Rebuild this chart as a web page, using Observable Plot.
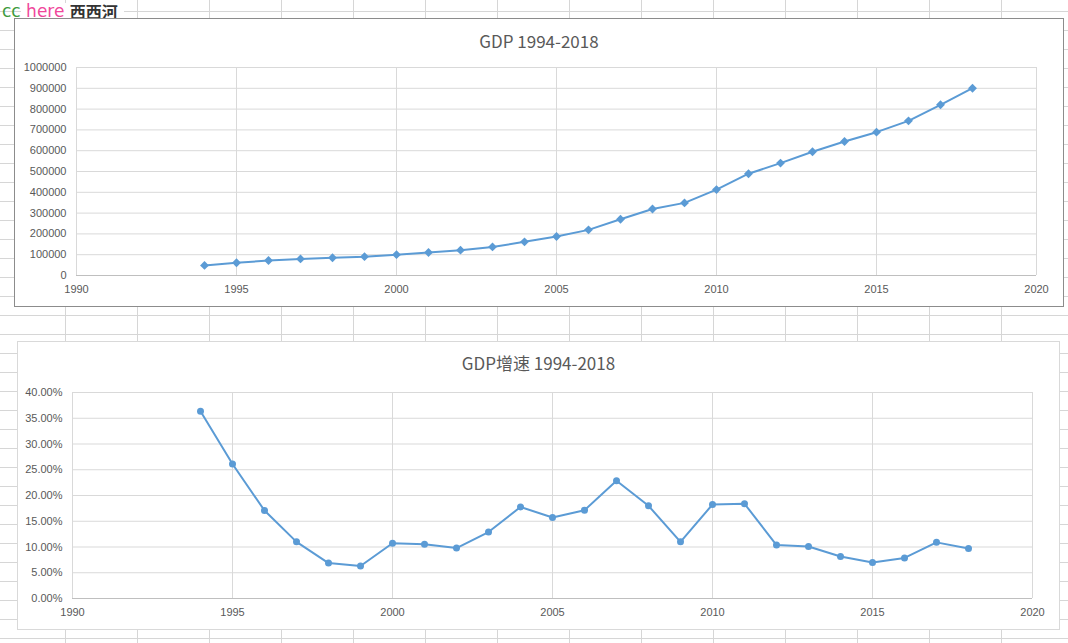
<!DOCTYPE html>
<html><head><meta charset="utf-8">
<script src="https://cdn.jsdelivr.net/npm/d3@7"></script>
<script src="https://cdn.jsdelivr.net/npm/@observablehq/plot@0.6"></script>
<style>
html,body{margin:0;padding:0;background:#fff;}
#page{position:relative;width:1068px;height:643px;overflow:hidden;background-color:#fff;
 background-image: linear-gradient(to bottom, #d6d6d6 1px, transparent 1px), linear-gradient(to right, #d6d6d6 1px, transparent 1px);
 background-size: 100% 19px, 72px 100%;
 background-position: 0 11px, 65px 0;}
.box{position:absolute;background:#fff;box-sizing:border-box;}
#box1{left:14px;top:18px;width:1050px;height:289px;border:1px solid #8c8c8c;}
#box2{left:17px;top:341px;width:1043px;height:289px;border:1px solid #d9d9d9;}
.title{position:absolute;text-align:center;font-family:"Noto Sans CJK SC","Noto Sans",sans-serif;font-size:17px;line-height:24px;color:#595959;}
.plot{position:absolute;}
#wm{position:absolute;left:2px;top:3px;font-family:"DejaVu Sans",sans-serif;font-size:17px;line-height:16px;height:16px;white-space:nowrap;}
#wm span{display:inline-block;line-height:16px;height:16px;vertical-align:top;}
#wm .w{background:#fff;padding-right:6px;}
</style></head>
<body>
<div id="page">
  <div id="wm"><span style="color:#3d9b3d">cc</span><span class="w">&nbsp;<span style="color:#f0479b">here</span>&nbsp;<span style="color:#333;font-family:'Noto Sans CJK SC';font-weight:bold;font-size:16px">西西河</span></span></div>
  <div class="box" id="box1"></div>
  <div class="box" id="box2"></div>
  <div class="title" style="left:14px;width:1050px;top:29px;">GDP 1994-2018</div>
  <div class="title" style="left:17px;width:1043px;top:351px;">GDP增速 1994-2018</div>
  <div class="plot" id="p1" style="left:14px;top:18px;"></div>
  <div class="plot" id="p2" style="left:17px;top:341px;"></div>
</div>
<script>
const years = [1994,1995,1996,1997,1998,1999,2000,2001,2002,2003,2004,2005,2006,2007,2008,2009,2010,2011,2012,2013,2014,2015,2016,2017,2018];
const gdp = [48638,61340,71814,79715,85196,90564,100280,110863,121717,137422,161840,187319,219439,270232,319516,349081,413030,489301,540367,595244,643974,689052,743586,820754,900309];
const growth = [0.3634,0.2612,0.1708,0.1100,0.0688,0.0630,0.1073,0.1055,0.0979,0.1290,0.1777,0.1574,0.1715,0.2288,0.1800,0.1100,0.1825,0.1840,0.1038,0.1010,0.0815,0.0697,0.0788,0.1090,0.0969];
const xTicks = [1990,1995,2000,2005,2010,2015,2020];
const gdpTicks = [0,100000,200000,300000,400000,500000,600000,700000,800000,900000,1000000];
const growthTicks = [0,0.05,0.10,0.15,0.20,0.25,0.30,0.35,0.40];

const rows = years.map((y,i)=>({year:y, gdp:gdp[i], growth:growth[i]}));
const blue = "#5b9bd5", grid = "#d9d9d9", txt = "#595959";
const style = {background:"transparent", fontFamily:"'Liberation Sans', sans-serif", fontSize:"11px", color:txt, overflow:"visible"};

const p1 = Plot.plot({
  width:1050, height:289, marginLeft:62, marginRight:28, marginTop:49, marginBottom:32,
  style,
  x:{domain:[1990,2020]},
  y:{domain:[0,1000000]},
  marks:[
    Plot.gridX(xTicks, {stroke:grid, strokeOpacity:1}),
    Plot.gridY(gdpTicks, {stroke:grid, strokeOpacity:1}),
    Plot.ruleY([0], {stroke:"#bfbfbf"}),
    Plot.line(rows, {x:"year", y:"gdp", stroke:blue, strokeWidth:2}),
    Plot.dot(rows, {x:"year", y:"gdp", symbol:"diamond2", fill:blue, r:4}),
    Plot.axisX(xTicks, {tickSize:0, tickPadding:10, tickFormat:d=>String(d), label:null}),
    Plot.axisY(gdpTicks, {tickSize:0, tickPadding:10, tickFormat:d=>String(d), label:null})
  ]
});
document.getElementById("p1").appendChild(p1);

const p2 = Plot.plot({
  width:1043, height:289, marginLeft:55, marginRight:28, marginTop:51, marginBottom:32,
  style,
  x:{domain:[1990,2020]},
  y:{domain:[0,0.4]},
  marks:[
    Plot.gridX(xTicks, {stroke:grid, strokeOpacity:1}),
    Plot.gridY(growthTicks, {stroke:grid, strokeOpacity:1}),
    Plot.ruleY([0], {stroke:"#bfbfbf"}),
    Plot.line(rows, {x:"year", y:"growth", stroke:blue, strokeWidth:2}),
    Plot.dot(rows, {x:"year", y:"growth", fill:blue, r:3.5}),
    Plot.axisX(xTicks, {tickSize:0, tickPadding:10, tickFormat:d=>String(d), label:null}),
    Plot.axisY(growthTicks, {tickSize:0, tickPadding:10, tickFormat:d3.format(".2%"), label:null})
  ]
});
document.getElementById("p2").appendChild(p2);
</script>
</body></html>
